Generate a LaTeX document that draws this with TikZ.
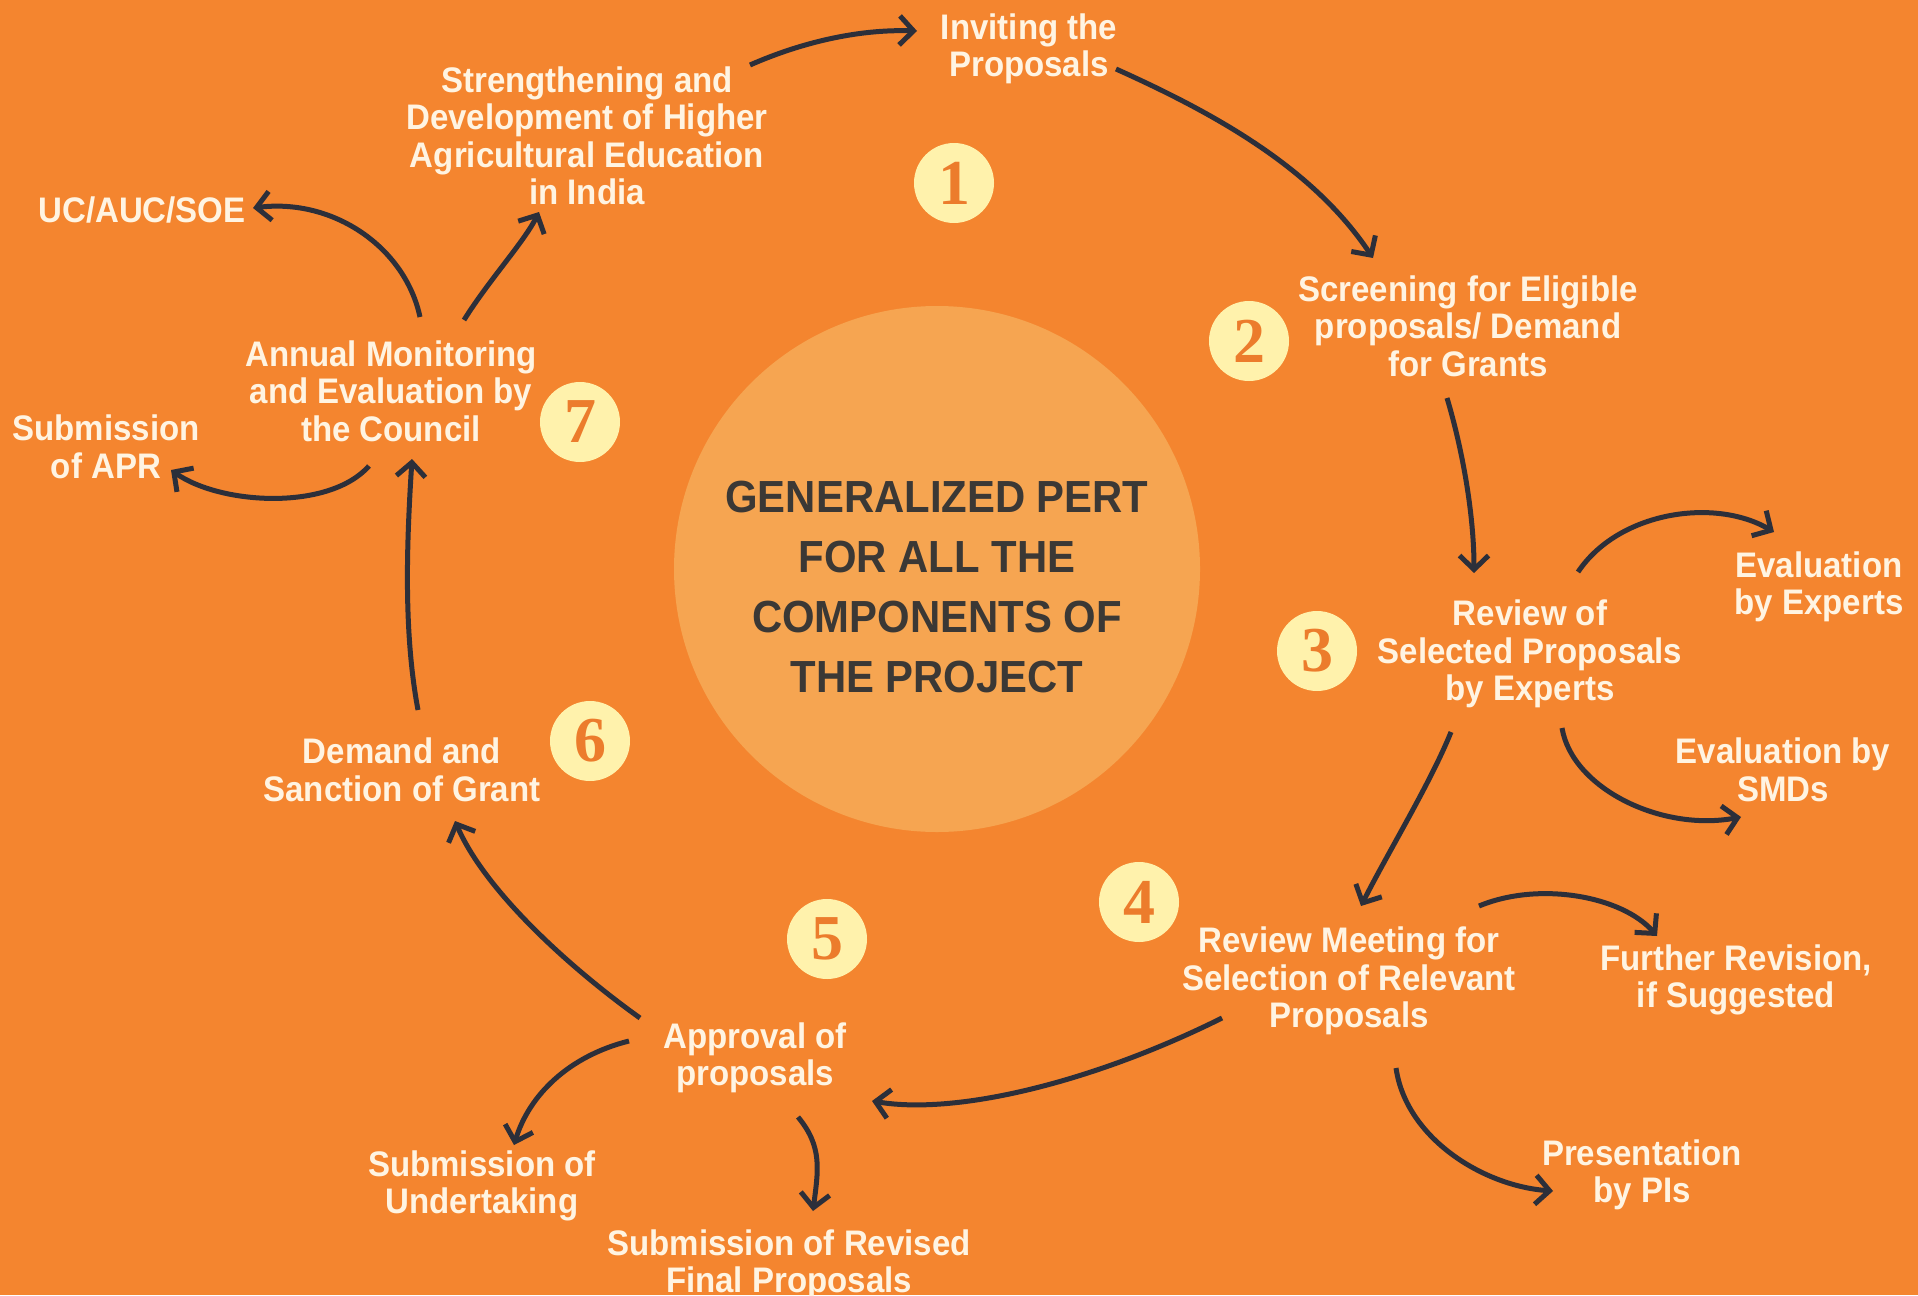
\documentclass[tikz,border=0pt]{standalone}
\usepackage{fontspec}
\setmainfont{Liberation Sans}[FakeStretch=0.93]
\newfontfamily\numfont{Liberation Serif}
\usetikzlibrary{arrows.meta,calc}
\definecolor{bg}{HTML}{F4852F}
\definecolor{disc}{HTML}{F6A551}
\definecolor{ink}{HTML}{2C2F3A}
\definecolor{cream}{HTML}{FFF4E2}
\definecolor{badgefill}{HTML}{FFF2AC}
\definecolor{numcol}{HTML}{EC7C2C}
\definecolor{titlecol}{HTML}{3B3835}
\begin{document}
\begin{tikzpicture}[x=1pt,y=-1pt,
  lbl/.style={text=cream,font=\bfseries\fontsize{35.5}{37.5}\selectfont,align=center,inner sep=0pt,yshift=-4pt},
  badge/.style={circle,fill=badgefill,minimum size=80pt,inner sep=0pt,text=numcol,font=\numfont\bfseries\fontsize{64}{64}\selectfont},
  arr/.style={draw=ink,line width=5pt,-{Straight Barb[length=14pt,width=29pt]}}]
\fill[bg] (0,0) rectangle (1918,1295);
\useasboundingbox (0,0) rectangle (1918,1295);
\node[circle,fill=disc,minimum size=526pt,inner sep=0pt] (core) at (937,569) {};
\node[text=titlecol,font=\bfseries\fontsize{45}{60}\selectfont,align=center,inner sep=0pt] (title) at (937,587)
  {GENERALIZED PERT\\FOR ALL THE\\COMPONENTS OF\\THE PROJECT};

% labels
\node[lbl] (invite) at (1029,45) {Inviting the\\Proposals};
\node[lbl] (strength) at (587,132) {Strengthening and\\Development of Higher\\Agricultural Education\\in India};
\node[lbl] (screen) at (1468,322) {Screening for Eligible\\proposals/ Demand\\for Grants};
\node[lbl] (review) at (1530,650) {Review of\\Selected Proposals\\by Experts};
\node[lbl] (evalexp) at (1819,583) {Evaluation\\by Experts};
\node[lbl] (evalsmd) at (1783,766) {Evaluation by\\SMDs};
\node[lbl] (meeting) at (1349,977) {Review Meeting for\\Selection of Relevant\\Proposals};
\node[lbl] (further) at (1736,976) {Further Revision,\\if Suggested};
\node[lbl] (present) at (1642,1171) {Presentation\\by PIs};
\node[lbl] (approve) at (755,1054) {Approval of\\proposals};
\node[lbl] (undertake) at (482,1182) {Submission of\\Undertaking};
\node[lbl] (revised) at (789,1261) {Submission of Revised\\Final Proposals};
\node[lbl] (demand) at (402,766) {Demand and\\Sanction of Grant};
\node[lbl] (annual) at (391,387) {Annual Monitoring\\and Evaluation by\\the Council};
\node[lbl] (uc) at (142,206) {UC/AUC/SOE};
\node[lbl] (apr) at (106,443) {Submission\\of APR};

% badges
\node[badge] (b1) at (954,183) {1};
\node[badge] (b2) at (1249,341) {2};
\node[badge] (b3) at (1317,651) {3};
\node[badge] (b4) at (1139,902) {4};
\node[badge] (b5) at (827,939) {5};
\node[badge] (b6) at (590,741) {6};
\node[badge] (b7) at (580,422) {7};

% connectors
\draw[arr] ($(strength)+(163,-71)$) .. controls +(50,-22) and +(-60,-2) .. ($(invite)+(-112,-18)$);
\draw[arr] ($(invite)+(87,20)$) .. controls +(100,45) and +(-60,-90) .. ($(screen)+(-95,-68)$);
\draw[arr] ($(screen)+(-21,72)$) .. controls +(15,50) and +(0,-60) .. ($(review)+(-56,-81)$);
\draw[arr] ($(review)+(48,-82)$) .. controls +(40,-60) and +(-60,-35) .. ($(evalexp)+(-45,-55)$);
\draw[arr] ($(review)+(32,74)$) .. controls +(10,60) and +(-80,15) .. ($(evalsmd)+(-42,47)$);
\draw[arr] ($(review)+(-79,78)$) .. controls +(-20,50) and +(25,-50) .. ($(meeting)+(12,-75)$);
\draw[arr] ($(meeting)+(130,-75)$) .. controls +(60,-25) and +(-35,-40) .. ($(further)+(-79,-44)$);
\draw[arr] ($(meeting)+(47,87)$) .. controls +(10,70) and +(-70,-5) .. ($(present)+(-89,16)$);
\draw[arr] ($(meeting)+(-127,37)$) .. controls +(-120,60) and +(90,15) .. ($(approve)+(117,43)$);
\draw[arr] ($(approve)+(-115,-40)$) .. controls +(-70,-50) and +(30,70) .. ($(demand)+(53,51)$);
\draw[arr] ($(approve)+(-126,-17)$) .. controls +(-60,15) and +(15,-50) .. ($(undertake)+(32,-41)$);
\draw[arr] ($(approve)+(43,59)$) .. controls +(25,30) and +(5,-40) .. ($(revised)+(24,-54)$);
\draw[arr] ($(demand)+(16,-60)$) .. controls +(-15,-80) and +(-5,80) .. ($(annual)+(21,68)$);
\draw[arr] ($(annual)+(29,-74)$) .. controls +(-15,-70) and +(80,-10) .. ($(uc)+(111,-2)$);
\draw[arr] ($(annual)+(73,-71)$) .. controls +(25,-40) and +(-15,30) .. ($(strength)+(-48,76)$);
\draw[arr] ($(annual)+(-22,75)$) .. controls +(-40,45) and +(50,35) .. ($(apr)+(65,23)$);
\end{tikzpicture}
\end{document}
